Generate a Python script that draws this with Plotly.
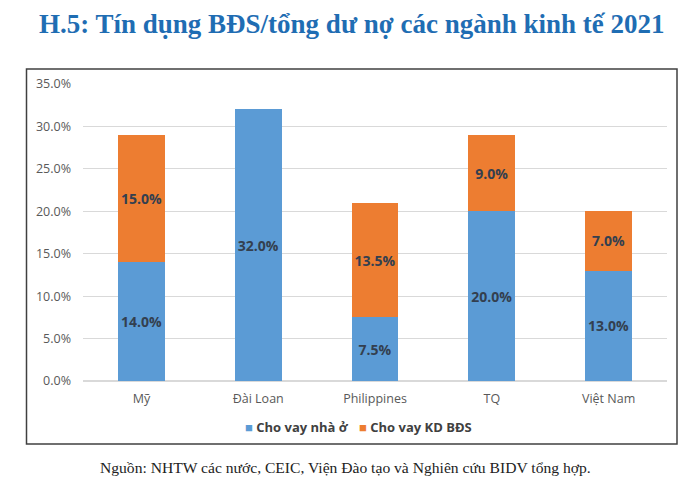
import plotly.graph_objects as go

# donnees (% du total du credit)
countries = ["Mỹ", "Đài Loan", "Philippines", "TQ", "Việt Nam"]
nha_o = [14.0, 32.0, 7.5, 20.0, 13.0]      # Cho vay nhà ở
kd_bds = [15.0, None, 13.5, 9.0, 7.0]       # Cho vay KD BĐS
y_ticks = [0, 5, 10, 15, 20, 25, 30, 35]

blue = "#5B9BD5"
orange = "#ED7D31"
label_color = "#333F4F"
axis_font = dict(family="Open Sans, sans-serif", size=12.5, color="#595959")

# la page html ajoute 8px de marge (body) -> on compense
OFF = 8
W, H = 700, 491
L, R, T, B = 83 - OFF, 667 - OFF, 84 - OFF, 381 - OFF


def px_x(x):
    return (x - OFF - L) / (R - L)


def px_y(y):
    return (B - (y - OFF)) / (B - T)


def pct(vals):
    return ["" if v is None else f"{v:.1f}%" for v in vals]


fig = go.Figure()
fig.add_trace(go.Bar(x=countries, y=nha_o, name="Cho vay nhà ở",
                     marker_color=blue, text=pct(nha_o),
                     textposition="inside", insidetextanchor="middle"))
fig.add_trace(go.Bar(x=countries, y=kd_bds, name="Cho vay KD BĐS",
                     marker_color=orange, text=pct(kd_bds),
                     textposition="inside", insidetextanchor="middle"))

fig.update_traces(textfont=dict(family="Open Sans, sans-serif", size=14,
                                color=label_color, weight="bold"),
                  textangle=0, constraintext="none", marker_line_width=0)

fig.update_layout(
    width=W, height=H,
    barmode="stack", bargap=0.6,
    plot_bgcolor="white", paper_bgcolor="white",
    margin=dict(l=L, r=W - R, t=T, b=H - B, autoexpand=False),
    showlegend=False,
    xaxis=dict(showline=False, ticks="", tickfont=axis_font,
               automargin=False, ticklabelstandoff=8),
    yaxis=dict(range=[0, 35], tickvals=y_ticks,
               ticktext=[f"{t:.1f}%" for t in y_ticks],
               showgrid=True, gridcolor="#D9D9D9", gridwidth=1,
               zeroline=True, zerolinecolor="#D9D9D9",
               ticks="", tickfont=axis_font, ticklabelstandoff=11,
               automargin=False),
)

# cadre autour du graphique
fig.add_shape(type="rect", xref="paper", yref="paper",
              x0=px_x(26.5), x1=px_x(677), y0=px_y(444), y1=px_y(69),
              line=dict(color="#404040", width=1.5))

# legende
legend_font = dict(family="Open Sans, sans-serif", size=13, color="#404040")
fig.add_annotation(text=f"<span style='color:{blue}'>■</span> <b>Cho vay nhà ở</b>",
                   xref="paper", yref="paper", x=px_x(243), y=px_y(427),
                   xanchor="left", yanchor="middle", showarrow=False, font=legend_font)
fig.add_annotation(text=f"<span style='color:{orange}'>■</span> <b>Cho vay KD BĐS</b>",
                   xref="paper", yref="paper", x=px_x(357), y=px_y(427),
                   xanchor="left", yanchor="middle", showarrow=False, font=legend_font)

# titre colle en haut de la figure pour ne pas etre coupe
fig.add_annotation(text="<b>H.5: Tín dụng BĐS/tổng dư nợ các ngành kinh tế 2021</b>",
                   xref="paper", yref="paper", x=px_x(352), y=px_y(OFF),
                   xanchor="center", yanchor="top", showarrow=False, borderpad=0,
                   font=dict(family="Liberation Serif, serif", size=27, color="#1F6DB3"))

fig.add_annotation(text="Nguồn: NHTW các nước, CEIC, Viện Đào tạo và Nghiên cứu BIDV tổng hợp.",
                   xref="paper", yref="paper", x=px_x(345), y=px_y(468),
                   xanchor="center", yanchor="middle", showarrow=False,
                   font=dict(family="Liberation Serif, serif", size=15.6, color="#222222"))

fig.write_html("out.html")
